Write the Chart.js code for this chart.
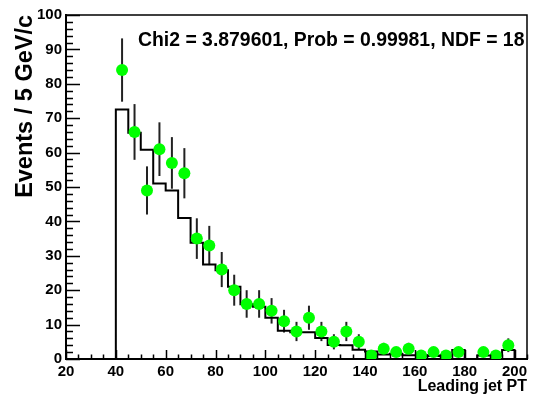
<!DOCTYPE html>
<html>
<head>
<meta charset="utf-8">
<script src="https://cdn.jsdelivr.net/npm/chart.js@4.4.1/dist/chart.umd.min.js"></script>
<style>
  html, body { margin:0; padding:0; background:#fff; }
  #wrap { width:533px; height:397px; position:relative; }
</style>
</head>
<body>
<div id="wrap"><canvas id="c" width="533" height="397"></canvas></div>
<script>
// data points (bin centres, 5 GeV bins)
const dataX = [42.5,47.5,52.5,57.5,62.5,67.5,72.5,77.5,82.5,87.5,92.5,97.5,102.5,107.5,112.5,117.5,122.5,127.5,132.5,137.5,142.5,147.5,152.5,157.5,162.5,167.5,172.5,177.5,187.5,192.5,197.5];
const dataY = [84,66,49,61,57,54,35,33,26,20,16,16,14,11,8,12,8,5,8,5,1,3,2,3,1,2,1,2,2,1,4];
const dataErr = [9.2,8.1,7.0,7.8,7.5,7.3,5.9,5.7,5.1,4.5,4.0,4.0,3.7,3.3,2.8,3.5,2.8,2.2,2.8,2.2,1.0,1.7,1.4,1.7,1.0,1.4,1.0,1.4,1.4,1.0,2.0];

// expected histogram (low edges of bins)
const histEdges = [40,45,50,55,60,65,70,75,80,85,90,95,100,105,110,115,120,125,130,135,140,145,150,155,160,165,170,175,180,185,190,195,200];
const histVals  = [72.5,65.8,60.8,51,49,41,33.8,27.5,25.8,21,15.9,15.2,12,8.2,7.8,7.8,6.1,4.1,4.0,2.7,2.2,1.3,1.5,1.1,1.1,0.9,1.0,2.6,0,1.0,1.0,2.6,0];
const histEnd = 205;

const xTicks = [20,40,60,80,100,120,140,160,180,200];
const yTicks = [0,10,20,30,40,50,60,70,80,90,100];
const fitText = 'Chi2 = 3.879601, Prob = 0.99981, NDF = 18';

const FONT = "'Liberation Sans', Arial, Helvetica, sans-serif";

const histPoints = [{ x: histEdges[0], y: 0 }];
histEdges.forEach((e, i) => histPoints.push({ x: e, y: histVals[i] }));
histPoints.push({ x: histEnd, y: 0 });

const dataPoints = dataX.map((x, i) => ({ x, y: dataY[i] }));

// frame, inside ticks, error bars, fit text (ROOT look)
const rootPlugin = {
  id: 'rootStyle',
  beforeDatasetsDraw(chart) {
    const ctx = chart.ctx, xs = chart.scales.x, ys = chart.scales.y;
    ctx.save();
    ctx.strokeStyle = '#222';
    ctx.lineWidth = 2;
    dataX.forEach((x, i) => {
      const px = xs.getPixelForValue(x);
      ctx.beginPath();
      ctx.moveTo(px, ys.getPixelForValue(dataY[i] - dataErr[i]));
      ctx.lineTo(px, ys.getPixelForValue(dataY[i] + dataErr[i]));
      ctx.stroke();
    });
    ctx.restore();
  },
  afterDraw(chart) {
    const ctx = chart.ctx, a = chart.chartArea, xs = chart.scales.x, ys = chart.scales.y;
    ctx.save();
    ctx.strokeStyle = '#000';
    ctx.lineWidth = 1.5;
    ctx.beginPath();
    ctx.moveTo(a.left, a.top); ctx.lineTo(a.right, a.top); ctx.lineTo(a.right, a.bottom);
    ctx.stroke();

    ctx.beginPath();
    for (let v = 0; v <= 100; v += 2) {
      const py = Math.round(ys.getPixelForValue(v)) + 0.5;
      const len = v % 10 === 0 ? 14 : 7;
      ctx.moveTo(a.left, py); ctx.lineTo(a.left + len, py);
    }
    for (let v = 20; v <= 205; v += 5) {
      const px = Math.round(xs.getPixelForValue(v)) + 0.5;
      const len = v % 20 === 0 ? 9 : 4.5;
      ctx.moveTo(px, a.bottom); ctx.lineTo(px, a.bottom - len);
    }
    ctx.stroke();

    ctx.fillStyle = '#000';
    ctx.font = 'bold 19.4px ' + FONT;
    ctx.textAlign = 'left';
    ctx.textBaseline = 'alphabetic';
    ctx.fillText(fitText, 138, 46);
    ctx.restore();
  }
};

new Chart(document.getElementById('c'), {
  data: {
    datasets: [
      {
        type: 'scatter', label: 'data', data: dataPoints, order: 0,
        pointRadius: 6, pointHoverRadius: 6, pointBorderWidth: 0,
        backgroundColor: '#00ff00', borderColor: '#00ff00'
      },
      {
        type: 'line', label: 'expected', data: histPoints, order: 1,
        stepped: 'before', borderColor: '#000', borderWidth: 2,
        pointRadius: 0, fill: false, tension: 0
      }
    ]
  },
  options: {
    responsive: false, animation: false,
    layout: { padding: { left: 0, right: 4, top: 15, bottom: 0 } },
    plugins: { legend: { display: false }, tooltip: { enabled: false } },
    scales: {
      x: {
        type: 'linear', min: 20, max: 205,
        afterBuildTicks: s => { s.ticks = xTicks.map(v => ({ value: v })); },
        afterFit: s => { s.height = 38; },
        grid: { display: false, drawTicks: false },
        border: { display: true, color: '#000', width: 2 },
        ticks: { color: '#000', padding: 4, maxRotation: 0, autoSkip: false, font: { family: FONT, size: 15, weight: 'bold' } },
        title: { display: true, text: 'Leading jet PT', align: 'end', color: '#000', padding: { top: 0, bottom: 1 }, font: { family: FONT, size: 16, weight: 'bold' } }
      },
      y: {
        type: 'linear', min: 0, max: 100,
        afterBuildTicks: s => { s.ticks = yTicks.map(v => ({ value: v })); },
        afterFit: s => { s.width = 66; },
        grid: { display: false, drawTicks: false },
        border: { display: true, color: '#000', width: 2 },
        ticks: { color: '#000', padding: 4, autoSkip: false, font: { family: FONT, size: 15, weight: 'bold' } },
        title: { display: true, text: 'Events / 5 GeV/c', align: 'end', color: '#000', padding: { top: 11, bottom: 0 }, font: { family: FONT, size: 23.5, weight: 'bold' } }
      }
    }
  },
  plugins: [rootPlugin]
});
</script>
</body>
</html>
